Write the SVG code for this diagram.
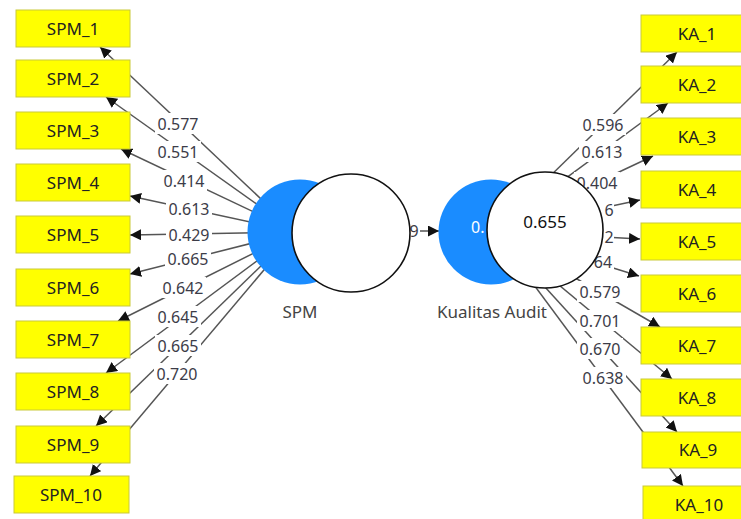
<svg xmlns="http://www.w3.org/2000/svg" width="741" height="519" viewBox="0 0 741 519">
<defs>
<marker id="ah" markerUnits="userSpaceOnUse" markerWidth="12" markerHeight="12" refX="11" refY="5.5" orient="auto">
<path d="M0,0 L11,5.5 L0,11 z" fill="#111"/>
</marker>
<style>
.ln{stroke:#555;stroke-width:1.5;fill:none;marker-end:url(#ah)}
.bx{fill:#ffff00;stroke:#c9c93a;stroke-width:1}
.bt{font-family:"Noto Sans","Open Sans",sans-serif;font-size:17px;fill:#222;text-anchor:middle}
.lb{font-family:"Noto Sans","Open Sans",sans-serif;font-size:16px;fill:#3c3c48;text-anchor:middle}
.bg{fill:#fff}
.blue{fill:#1a8cff}
.wc{fill:#fff;stroke:#111;stroke-width:1.6}
.nm{font-family:"Noto Sans","Open Sans",sans-serif;font-size:17px;fill:#444;text-anchor:middle}
</style>
</defs>
<rect width="741" height="519" fill="#fff"/>
<g id="connectors">
<line class="ln" x1="296" y1="232" x2="100" y2="47"/>
<line class="ln" x1="296" y1="232" x2="106" y2="97"/>
<line class="ln" x1="296" y1="232" x2="121" y2="149"/>
<line class="ln" x1="296" y1="232" x2="130" y2="196"/>
<line class="ln" x1="296" y1="232" x2="130" y2="235"/>
<line class="ln" x1="296" y1="232" x2="130" y2="274"/>
<line class="ln" x1="296" y1="232" x2="118" y2="321"/>
<line class="ln" x1="296" y1="232" x2="106" y2="373"/>
<line class="ln" x1="296" y1="232" x2="96" y2="426"/>
<line class="ln" x1="296" y1="232" x2="90" y2="476"/>
<line class="ln" x1="494" y1="231" x2="677" y2="52"/>
<line class="ln" x1="494" y1="231" x2="668" y2="103"/>
<line class="ln" x1="494" y1="231" x2="653" y2="156"/>
<line class="ln" x1="494" y1="231" x2="640" y2="200"/>
<line class="ln" x1="494" y1="231" x2="640" y2="239"/>
<line class="ln" x1="494" y1="231" x2="639" y2="276"/>
<line class="ln" x1="494" y1="231" x2="660" y2="327"/>
<line class="ln" x1="494" y1="231" x2="672" y2="379"/>
<line class="ln" x1="494" y1="231" x2="677" y2="432"/>
<line class="ln" x1="494" y1="231" x2="683" y2="486"/>
<line class="ln" x1="400" y1="231" x2="439" y2="231"/>
</g>
<g id="labels">
<rect class="bg" x="155" y="113" width="46" height="21"/>
<rect class="bg" x="155" y="141" width="46" height="21"/>
<rect class="bg" x="161" y="170" width="46" height="21"/>
<rect class="bg" x="166" y="198" width="46" height="21"/>
<rect class="bg" x="166" y="224" width="46" height="21"/>
<rect class="bg" x="165" y="248" width="46" height="21"/>
<rect class="bg" x="160" y="277" width="46" height="21"/>
<rect class="bg" x="155" y="306" width="46" height="21"/>
<rect class="bg" x="155" y="335" width="46" height="21"/>
<rect class="bg" x="154" y="363" width="46" height="21"/>
<text class="lb" x="178" y="129.5">0.577</text>
<text class="lb" x="178" y="157.5">0.551</text>
<text class="lb" x="184" y="186.5">0.414</text>
<text class="lb" x="189" y="214.5">0.613</text>
<text class="lb" x="189" y="240.5">0.429</text>
<text class="lb" x="188" y="264.5">0.665</text>
<text class="lb" x="183" y="293.5">0.642</text>
<text class="lb" x="178" y="322.5">0.645</text>
<text class="lb" x="178" y="351.5">0.665</text>
<text class="lb" x="177" y="379.5">0.720</text>
<rect class="bg" x="580" y="114" width="46" height="21"/>
<rect class="bg" x="579" y="141" width="46" height="21"/>
<rect class="bg" x="574" y="172" width="46" height="21"/>
<rect class="bg" x="586" y="199" width="28" height="21"/>
<rect class="bg" x="586" y="226" width="28" height="21"/>
<rect class="bg" x="586" y="251" width="28" height="21"/>
<rect class="bg" x="577" y="281" width="46" height="21"/>
<rect class="bg" x="577" y="310" width="46" height="21"/>
<rect class="bg" x="577" y="338" width="46" height="21"/>
<rect class="bg" x="580" y="367" width="46" height="21"/>
<text class="lb" x="603" y="130.5">0.596</text>
<text class="lb" x="602" y="157.5">0.613</text>
<text class="lb" x="597" y="188.5">0.404</text>
<text class="lb" x="609" y="215.5">6</text>
<text class="lb" x="609" y="242.5">2</text>
<text class="lb" x="603" y="267.5">64</text>
<text class="lb" x="600" y="297.5">0.579</text>
<text class="lb" x="600" y="326.5">0.701</text>
<text class="lb" x="600" y="354.5">0.670</text>
<text class="lb" x="603" y="383.5">0.638</text>
<rect class="bg" x="400" y="221" width="20" height="21"/>
<text class="lb" x="414" y="236.5">9</text>
</g>
<g id="SPM_1"><rect class="bx" x="16" y="10" width="114" height="37"/><text class="bt" x="73" y="34.5">SPM_1</text></g>
<g id="SPM_2"><rect class="bx" x="16" y="60" width="114" height="37"/><text class="bt" x="73" y="84.5">SPM_2</text></g>
<g id="SPM_3"><rect class="bx" x="16" y="112" width="114" height="37"/><text class="bt" x="73" y="136.5">SPM_3</text></g>
<g id="SPM_4"><rect class="bx" x="16" y="164" width="114" height="37"/><text class="bt" x="73" y="188.5">SPM_4</text></g>
<g id="SPM_5"><rect class="bx" x="16" y="216" width="114" height="37"/><text class="bt" x="73" y="240.5">SPM_5</text></g>
<g id="SPM_6"><rect class="bx" x="16" y="269" width="114" height="37"/><text class="bt" x="73" y="293.5">SPM_6</text></g>
<g id="SPM_7"><rect class="bx" x="16" y="321" width="114" height="37"/><text class="bt" x="73" y="345.5">SPM_7</text></g>
<g id="SPM_8"><rect class="bx" x="16" y="373" width="114" height="37"/><text class="bt" x="73" y="397.5">SPM_8</text></g>
<g id="SPM_9"><rect class="bx" x="16" y="426" width="114" height="37"/><text class="bt" x="73" y="450.5">SPM_9</text></g>
<g id="SPM_10"><rect class="bx" x="14" y="476" width="115" height="37"/><text class="bt" x="71" y="500.5">SPM_10</text></g>
<g id="KA_1"><rect class="bx" x="641" y="15" width="114" height="37"/><text class="bt" x="697" y="39.5">KA_1</text></g>
<g id="KA_2"><rect class="bx" x="641" y="66" width="114" height="37"/><text class="bt" x="697" y="90.5">KA_2</text></g>
<g id="KA_3"><rect class="bx" x="641" y="118" width="114" height="37"/><text class="bt" x="697" y="142.5">KA_3</text></g>
<g id="KA_4"><rect class="bx" x="641" y="171" width="114" height="37"/><text class="bt" x="697" y="195.5">KA_4</text></g>
<g id="KA_5"><rect class="bx" x="641" y="223" width="114" height="37"/><text class="bt" x="697" y="247.5">KA_5</text></g>
<g id="KA_6"><rect class="bx" x="641" y="275" width="114" height="37"/><text class="bt" x="697" y="299.5">KA_6</text></g>
<g id="KA_7"><rect class="bx" x="641" y="327" width="114" height="37"/><text class="bt" x="697" y="351.5">KA_7</text></g>
<g id="KA_8"><rect class="bx" x="641" y="379" width="114" height="37"/><text class="bt" x="697" y="403.5">KA_8</text></g>
<g id="KA_9"><rect class="bx" x="642" y="432" width="114" height="36"/><text class="bt" x="698" y="456">KA_9</text></g>
<g id="KA_10"><rect class="bx" x="643" y="486" width="114" height="37"/><text class="bt" x="699" y="510.5">KA_10</text></g>
<g id="SPM">
<circle class="blue" cx="300" cy="232" r="52.5"/>
<circle class="wc" cx="351" cy="233" r="59"/>
<text class="nm" x="300" y="318">SPM</text>
</g>
<g id="Kualitas_Audit">
<circle class="blue" cx="491" cy="232" r="52.5"/>
<text x="471" y="233" font-family="Noto Sans, Open Sans, sans-serif" font-size="16" fill="#fff">0.</text>
<circle class="wc" cx="545" cy="230" r="58"/>
<text x="545" y="227.5" font-family="Noto Sans, Open Sans, sans-serif" font-size="17" fill="#111" text-anchor="middle">0.655</text>
<text class="nm" x="492" y="318">Kualitas Audit</text>
</g>
</svg>
